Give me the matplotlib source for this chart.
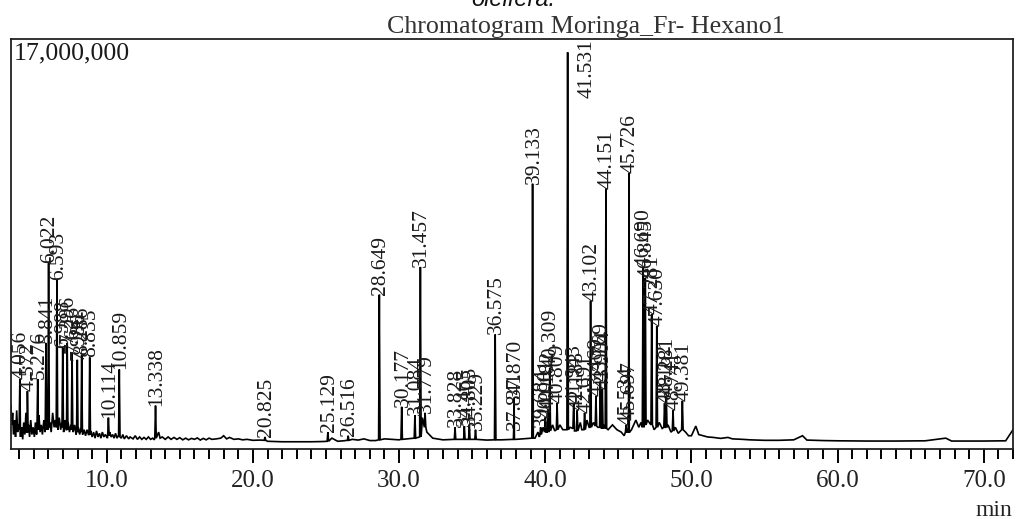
import matplotlib
matplotlib.use("Agg")
import matplotlib.pyplot as plt
import numpy as np
from matplotlib.ticker import MultipleLocator, FixedLocator

# ---------------- data ----------------
# baseline of the trace: retention time (min) and intensity (millions of counts)
baseline_t = [3.45, 3.5, 3.56, 3.62, 3.7, 3.76, 3.84, 3.9, 3.97, 4.1, 4.18, 4.25, 4.32, 4.4,
              4.47, 4.55, 4.65, 4.72, 4.8, 4.88, 4.96, 5.05, 5.12, 5.2, 5.36, 5.44, 5.52, 5.6,
              5.7, 5.78, 5.9, 5.97, 6.1, 6.2, 6.3, 6.4, 6.48, 6.66, 6.75, 6.85, 6.93, 7.05,
              7.15, 7.23, 7.36, 7.45, 7.55, 7.7, 7.8, 7.9, 8.05, 8.15, 8.22, 8.35, 8.45, 8.55,
              8.65, 8.75, 8.9, 9.0, 9.1, 9.2, 9.3, 9.4, 9.5, 9.6, 9.7, 9.8, 9.9, 10.05, 10.2,
              10.3, 10.4, 10.5, 10.6, 10.7, 10.8, 11.0, 11.1, 11.2, 11.35, 11.5, 11.6, 11.8,
              11.95, 12.1, 12.25, 12.4, 12.55, 12.7, 12.85, 13.0, 13.15, 13.25, 13.55, 13.65,
              13.8, 14.0, 14.2, 14.4, 14.6, 14.8, 15.0, 15.2, 15.4, 15.6, 15.8, 16.0, 16.2,
              16.4, 16.6, 16.8, 17.0, 17.2, 17.5, 17.8, 18.0, 18.2, 18.4, 18.7, 19.0, 19.3,
              19.6, 20.0, 20.5, 21.0, 22.0, 23.0, 24.0, 24.8, 25.4, 25.8, 26.2, 26.8, 27.2,
              27.6, 28.0, 28.4, 29.0, 30.0, 31.0, 31.6, 31.9, 32.3, 33.0, 34.0, 35.0, 36.0,
              37.0, 38.0, 39.0, 39.3, 39.5, 39.6, 39.85, 40.1, 40.5, 40.65, 41.0, 41.2, 41.7,
              42.0, 42.4, 42.5, 42.85, 43.0, 43.3, 43.6, 44.0, 44.3, 44.6, 44.9, 45.2, 45.4,
              45.9, 46.2, 46.4, 46.55, 47.0, 47.45, 47.8, 48.0, 48.4, 48.6, 48.9, 49.1, 49.6,
              49.8, 50.0, 50.3, 50.5, 50.8, 51.1, 51.5, 52.0, 52.5, 52.8, 53.5, 54.0, 55.0,
              56.0, 57.0, 57.6, 57.9, 59.0, 60.0, 62.0, 64.0, 66.0, 67.4, 67.8, 70.0, 71.5,
              72.0]
baseline_v = [1.8, 1.0, 1.5, 0.6, 1.2, 0.5, 1.6, 0.7, 1.0, 0.5, 0.9, 0.4, 1.1, 0.6,
              1.5, 0.7, 1.0, 0.5, 1.2, 0.6, 0.9, 0.5, 1.1, 0.6, 1.4, 0.7, 1.0, 0.6,
              1.2, 0.7, 1.3, 0.8, 1.1, 0.7, 1.5, 0.9, 1.2, 0.8, 1.3, 0.8, 1.1, 0.7,
              1.2, 0.8, 1.1, 0.7, 1.0, 0.7, 1.0, 0.6, 0.9, 0.6, 0.85, 0.6, 0.8, 0.55,
              0.8, 0.6, 0.75, 0.5, 0.7, 0.45, 0.75, 0.5, 0.65, 0.45, 0.7, 0.5, 0.6, 0.45, 0.7,
              0.5, 0.6, 0.45, 0.65, 0.45, 0.55, 0.45, 0.6, 0.42, 0.55, 0.42, 0.5, 0.42,
              0.55, 0.4, 0.5, 0.4, 0.48, 0.4, 0.5, 0.4, 0.45, 0.38, 0.7, 0.45,
              0.5, 0.4, 0.5, 0.4, 0.48, 0.4, 0.47, 0.38, 0.45, 0.38, 0.44, 0.4, 0.46,
              0.37, 0.44, 0.38, 0.45, 0.4, 0.42, 0.45, 0.55, 0.42, 0.48, 0.4, 0.42, 0.38,
              0.4, 0.36, 0.37, 0.32, 0.3, 0.3, 0.3, 0.31, 0.45, 0.32, 0.34, 0.4, 0.37,
              0.42, 0.35, 0.35, 0.42, 0.38, 0.45, 1.3, 0.7, 0.45, 0.38, 0.4, 0.4, 0.37,
              0.38, 0.4, 0.45, 0.45, 0.7, 0.5, 0.9, 0.7, 1.0, 0.75, 1.0, 0.8, 0.9,
              0.75, 1.1, 0.8, 1.2, 0.9, 1.1, 0.9, 1.0, 0.8, 1.0, 0.8, 0.7, 0.55,
              0.8, 1.2, 0.9, 1.1, 1.2, 0.8, 1.1, 0.85, 1.0, 0.7, 0.9, 0.65, 0.7,
              0.55, 0.55, 0.95, 0.6, 0.55, 0.5, 0.48, 0.44, 0.48, 0.42, 0.4, 0.38, 0.36,
              0.36, 0.38, 0.55, 0.37, 0.35, 0.34, 0.33, 0.33, 0.34, 0.45, 0.33, 0.33, 0.34,
              0.8]

# labelled peaks: retention time, apex height (millions), foot level (millions)
peak_t = [4.056, 4.572, 5.276, 5.841, 6.022, 6.593, 6.988, 7.296, 7.626, 7.986, 8.286, 8.835,
          10.114, 10.859, 13.338, 20.825, 25.129, 26.516, 28.649, 30.177, 31.084, 31.457,
          31.779, 33.828, 34.465, 34.805, 35.229, 36.575, 37.841, 37.870, 39.133, 39.684,
          40.001, 40.182, 40.309, 40.809, 41.531, 41.943, 42.183, 42.691, 43.102, 43.469,
          43.769, 43.904, 44.151, 45.534, 45.697, 45.726, 46.690, 46.845, 47.281, 47.630,
          48.162, 48.281, 48.741, 49.381]
peak_h = [2.9, 2.4, 2.9, 4.4, 7.7, 7.0, 4.2, 4.4, 4.0, 3.7, 3.9, 3.8,
          1.3, 3.3, 1.8, 0.5, 0.7, 0.55, 6.4, 1.75, 1.4, 7.55,
          1.5, 0.9, 0.95, 1.0, 0.8, 4.75, 0.8, 2.1, 11.0, 0.9,
          1.3, 1.6, 3.35, 1.9, 16.45, 1.9, 1.6, 1.5, 6.15, 2.2,
          2.8, 2.5, 10.8, 1.0, 1.2, 11.45, 7.55, 7.1, 5.6, 5.1,
          1.9, 2.2, 1.6, 2.0]
peak_foot = [0.8, 0.7, 0.8, 0.8, 0.9, 0.9, 0.9, 0.8, 0.8, 0.7, 0.7, 0.6,
             0.55, 0.5, 0.45, 0.36, 0.32, 0.36, 0.38, 0.4, 0.45, 0.5,
             0.9, 0.4, 0.4, 0.4, 0.4, 0.38, 0.4, 0.4, 0.45, 0.6,
             0.7, 0.7, 0.75, 0.8, 0.8, 0.85, 0.75, 0.8, 0.9, 0.95,
             0.9, 0.85, 0.85, 0.7, 0.7, 0.7, 0.9, 1.0, 1.0, 0.9,
             0.9, 0.9, 0.75, 0.8]
peak_label = ["4.056", "4.572", "5.276", "5.841", "6.022", "6.593", "6.988", "7.296", "7.626",
              "7.986", "8.286", "8.835", "10.114", "10.859", "13.338", "20.825", "25.129",
              "26.516", "28.649", "30.177", "31.084", "31.457", "31.779", "33.828", "34.465",
              "34.805", "35.229", "36.575", "37.841", "37.870", "39.133", "39.684", "40.001",
              "40.182", "40.309", "40.809", "41.531", "41.943", "42.183", "42.691", "43.102",
              "43.469", "43.769", "43.904", "44.151", "45.534", "45.697", "45.726", "46.690",
              "46.845", "47.281", "47.630", "48.162", "48.281", "48.741", "49.381"]

x_major = [10, 20, 30, 40, 50, 60, 70]
x_major_labels = ["10.0", "20.0", "30.0", "40.0", "50.0", "60.0", "70.0"]
y_top_label = "17,000,000"
title = "Chromatogram Moringa_Fr- Hexano1"
caption_cut = "oleifera."

# ---------------- build the trace ----------------
pts = list(zip(baseline_t, baseline_v))
half = 0.05
for t, h, f in zip(peak_t, peak_h, peak_foot):
    pts += [(t - half, f), (t, h), (t + half, f)]
pts.sort(key=lambda p: p[0])
tr_t = np.array([p[0] for p in pts])
tr_v = np.array([p[1] for p in pts]) * 1e6

# ---------------- figure ----------------
W, H = 1017, 519
fig = plt.figure(figsize=(W / 100, H / 100), dpi=100)
ax = fig.add_axes([11 / W, 70 / H, (1013 - 11) / W, (449 - 39) / H])

serif = ["Liberation Serif", "DejaVu Serif"]
ink = "#1a1a1a"

ax.plot(tr_t, tr_v, color="black", lw=1.2, solid_joinstyle="miter")
ax.set_xlim(3.45, 72.0)
ax.set_ylim(0, 17e6)

for t, h, lab in zip(peak_t, peak_h, peak_label):
    if lab == "41.531":
        ax.annotate(lab, (t, h * 1e6), xytext=(14, -33), textcoords="offset points",
                    rotation=90, ha="center", va="bottom", fontsize=15.5,
                    family=serif, color=ink)
    else:
        ax.annotate(lab, (t, h * 1e6), xytext=(1, 0), textcoords="offset points",
                    rotation=90, ha="center", va="bottom", fontsize=15.5,
                    family=serif, color=ink)

ax.xaxis.set_major_locator(FixedLocator(x_major))
ax.set_xticklabels(x_major_labels)
ax.xaxis.set_minor_locator(MultipleLocator(1))
ax.tick_params(axis="x", which="major", direction="out", length=10, width=1.4,
               pad=5, labelsize=18, colors="black")
ax.tick_params(axis="x", which="minor", direction="out", length=7, width=1.4)
for lab in ax.get_xticklabels():
    lab.set_family(serif)
    lab.set_color("#222222")
ax.set_yticks([])
for s in ax.spines.values():
    s.set_linewidth(1.3)
    s.set_color("#222222")

fig.text(14 / W, 1 - 42 / H, y_top_label, ha="left", va="top", fontsize=18.6,
         family=serif, color=ink)
fig.text(586 / W, 1 - 33 / H, title, ha="center", va="baseline", fontsize=18.7,
         family=serif, color="#333333")
fig.text(1012 / W, 1 - 516 / H, "min", ha="right", va="baseline", fontsize=17,
         family=serif, color="#222222")
fig.text(513 / W, 1 - 6 / H, caption_cut, ha="center", va="baseline", fontsize=17,
         family=["Liberation Sans", "DejaVu Sans"], style="italic", color="#111111")

fig.savefig("out.png", dpi=100)
